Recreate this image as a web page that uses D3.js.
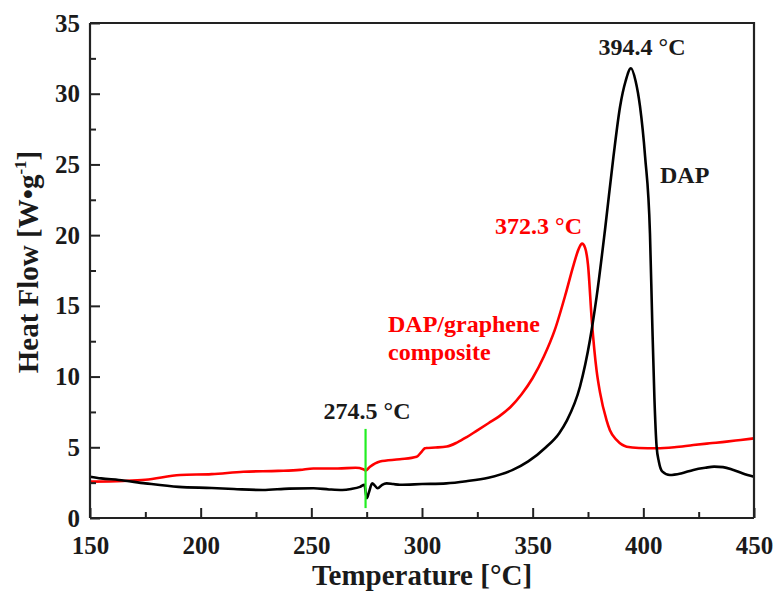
<!DOCTYPE html>
<html>
<head>
<meta charset="utf-8">
<script src="https://cdn.jsdelivr.net/npm/d3@7"></script>
<style>
  body { margin: 0; background: #fff; }
  svg text { font-family: "Liberation Serif", "Times New Roman", serif; font-weight: bold; }
</style>
</head>
<body>
<div id="chart"></div>
<script>
// DAP (black) curve
var dapTemp = [150,155,163,175,190,205,215,228,240,251,258,264,268,272,274,275,276,277.5,280,282,284,287,290,300,311,320,330,341,348,356,362,365.5,371.4,375.9,378.9,382.7,386.5,389.5,392,394.4,396.5,398.5,400.8,403,404,405,406,407,408.5,412,417,422.6,428,432,436,440.7,445,450];
var dapFlow = [2.92,2.8,2.69,2.45,2.2,2.12,2.05,1.98,2.08,2.1,2.02,1.98,2.05,2.2,2.35,1.4,1.8,2.45,2.1,2.35,2.45,2.4,2.35,2.4,2.45,2.6,2.85,3.4,4.0,5.0,6.0,6.9,9.3,12.6,15.65,20.4,25.55,29.1,30.9,31.8,30.9,29.1,25.55,20.1,14,8.5,5.04,4.0,3.3,3.04,3.15,3.4,3.55,3.63,3.6,3.4,3.15,2.92];

// DAP/graphene composite (red) curve
var compTemp = [150,165,175,190.7,205,219.3,235,244.9,250.9,262,270,273.5,274.5,276.5,281,290,297.6,299.9,301.3,302.1,306,311.2,316,320,325,330,335,340,345,350,355,360,365,368.5,371,372.3,373.7,375,376.7,378.9,380.4,383.4,384.9,388,392.5,398,406,414,422.6,430,437.6,444,450];
var compFlow = [2.57,2.62,2.7,3.04,3.1,3.27,3.33,3.4,3.5,3.5,3.55,3.45,3.35,3.63,4.0,4.15,4.33,4.7,4.93,4.95,4.98,5.05,5.35,5.7,6.2,6.7,7.2,7.85,8.75,9.9,11.4,13.3,15.9,17.9,19.1,19.4,19.1,17.9,14.0,10.4,8.9,6.9,6.2,5.5,5.04,4.95,4.93,5.0,5.16,5.28,5.4,5.52,5.63];

var xTicks = [150,200,250,300,350,400,450];
var xMinor = [175,225,275,325,375,425];
var yTicks = [0,5,10,15,20,25,30,35];
var yMinor = [2.5,7.5,12.5,17.5,22.5,27.5,32.5];

var W = 776, H = 591;
var margin = {top: 23, right: 22, bottom: 73, left: 90};

var svg = d3.select("#chart").append("svg")
    .attr("width", W)
    .attr("height", H);

var x = d3.scaleLinear().domain([150, 450]).range([margin.left, W - margin.right]);
var y = d3.scaleLinear().domain([0, 35]).range([H - margin.bottom, margin.top]);

var line = d3.line()
    .x(function(d) { return x(d[0]); })
    .y(function(d) { return y(d[1]); })
    .curve(d3.curveMonotoneX);

// curves
svg.append("path")
    .datum(compTemp.map(function(t, i) { return [t, compFlow[i]]; }))
    .attr("fill", "none")
    .attr("stroke", "#ff0000")
    .attr("stroke-width", 2.6)
    .attr("d", line);

svg.append("path")
    .datum(dapTemp.map(function(t, i) { return [t, dapFlow[i]]; }))
    .attr("fill", "none")
    .attr("stroke", "#000")
    .attr("stroke-width", 2.6)
    .attr("d", line);

// green marker at 274.5
svg.append("line")
    .attr("x1", x(274.5)).attr("x2", x(274.5))
    .attr("y1", y(6.3)).attr("y2", y(0.7))
    .attr("stroke", "#22ee22")
    .attr("stroke-width", 2.2);

// axes
var axisColor = "#222";
var gx = svg.append("g")
    .attr("transform", "translate(0," + y(0) + ")")
    .call(d3.axisBottom(x).tickValues(xTicks).tickSize(-10).tickPadding(18).tickFormat(d3.format("d")));
var gxm = svg.append("g")
    .attr("transform", "translate(0," + y(0) + ")")
    .call(d3.axisBottom(x).tickValues(xMinor).tickSize(-6).tickFormat(""));
var gy = svg.append("g")
    .attr("transform", "translate(" + x(150) + ",0)")
    .call(d3.axisLeft(y).tickValues(yTicks).tickSize(-10).tickPadding(10).tickFormat(d3.format("d")));
var gym = svg.append("g")
    .attr("transform", "translate(" + x(150) + ",0)")
    .call(d3.axisLeft(y).tickValues(yMinor).tickSize(-6).tickFormat(""));

[gx, gxm, gy, gym].forEach(function(g) {
    g.selectAll("path").attr("stroke", axisColor).attr("stroke-width", 2.2);
    g.selectAll("line").attr("stroke", axisColor).attr("stroke-width", 2);
    g.selectAll("text").attr("fill", "#1a1a1a").style("font-size", "25px");
});
gxm.select(".domain").remove();
gym.select(".domain").remove();
gx.selectAll(".domain").attr("d", "M" + x(150) + ",0H" + x(450));
gy.selectAll(".domain").attr("d", "M0," + y(0) + "V" + y(35));

// top and right frame
svg.append("path")
    .attr("d", "M" + x(150) + "," + y(35) + "H" + x(450) + "V" + y(0))
    .attr("fill", "none")
    .attr("stroke", axisColor)
    .attr("stroke-width", 2.2);

// axis titles
svg.append("text")
    .attr("x", (x(150) + x(450)) / 2)
    .attr("y", 585)
    .attr("text-anchor", "middle")
    .attr("fill", "#1a1a1a")
    .style("font-size", "29px")
    .text("Temperature [°C]");

var yt = svg.append("text")
    .attr("transform", "translate(38," + 262 + ") rotate(-90)")
    .attr("text-anchor", "middle")
    .attr("fill", "#1a1a1a")
    .style("font-size", "29px");
yt.append("tspan").text("Heat Flow [W•g");
yt.append("tspan").attr("dy", -12).style("font-size", "17px").text("-1");
yt.append("tspan").attr("dy", 12).text("]");

// annotations
var notes = [
    {t: "394.4 °C", x: 642, y: 55, c: "#1a1a1a", a: "middle"},
    {t: "DAP", x: 660, y: 183, c: "#1a1a1a", a: "start"},
    {t: "372.3 °C", x: 582, y: 234, c: "#ff0000", a: "end"},
    {t: "DAP/graphene", x: 388, y: 332, c: "#ff0000", a: "start"},
    {t: "composite", x: 388, y: 360, c: "#ff0000", a: "start"},
    {t: "274.5 °C", x: 367, y: 419, c: "#1a1a1a", a: "middle"}
];
svg.selectAll(".note").data(notes).enter().append("text")
    .attr("class", "note")
    .attr("x", function(d) { return d.x; })
    .attr("y", function(d) { return d.y; })
    .attr("text-anchor", function(d) { return d.a; })
    .attr("fill", function(d) { return d.c; })
    .style("font-size", "24px")
    .text(function(d) { return d.t; });
</script>
</body>
</html>
